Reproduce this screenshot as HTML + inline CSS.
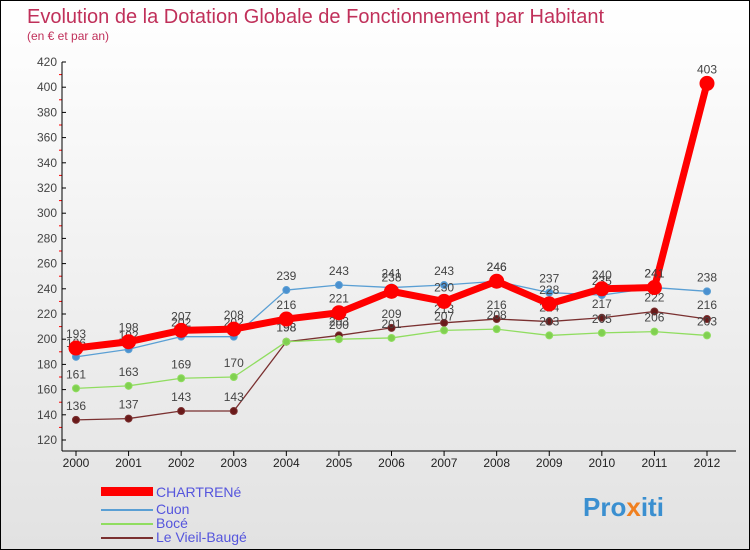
<!DOCTYPE html>
<html><head><meta charset="utf-8"><style>
body{margin:0}
#c{width:748px;height:548px;border:1px solid #000;background:linear-gradient(#fff,#e2e2e2);position:relative;font-family:"Liberation Sans",sans-serif;overflow:hidden}
</style></head><body>
<div id="c">
<svg id="s" width="748" height="548" xmlns="http://www.w3.org/2000/svg">
<text x="26" y="22" font-size="20" fill="#c0305a">Evolution de la Dotation Globale de Fonctionnement par Habitant</text>
<text x="26" y="39" font-size="12" fill="#c0305a">(en € et par an)</text>
<g id="g"></g>
<g>
<rect x="100" y="486" width="52" height="9" fill="#f00"/>
<text x="155" y="496" font-size="14" fill="#5555dd">CHARTRENé</text>
<line x1="100" y1="509" x2="152" y2="509" stroke="#5a9fd4" stroke-width="2"/>
<text x="155" y="513" font-size="14" fill="#5555dd">Cuon</text>
<line x1="100" y1="523" x2="152" y2="523" stroke="#90dd60" stroke-width="2"/>
<text x="155" y="527" font-size="14" fill="#5555dd">Bocé</text>
<line x1="100" y1="537" x2="152" y2="537" stroke="#7a3030" stroke-width="2"/>
<text x="155" y="541" font-size="14" fill="#5555dd">Le Vieil-Baugé</text>
</g>
<text x="582" y="515" font-size="26" font-weight="bold" fill="#3a8fd0">Pro<tspan fill="#f08020">x</tspan>iti</text>
</svg>
</div>
<script>
const years=[2000,2001,2002,2003,2004,2005,2006,2007,2008,2009,2010,2011,2012];
const chartrene=[193,198,207,208,216,221,238,230,246,228,240,241,403];
const cuon=[186,192,202,202,239,243,241,243,246,237,235,241,238];
const boce=[161,163,169,170,198,200,201,207,208,203,205,206,203];
const vieil=[136,137,143,143,198,203,209,213,216,214,217,222,216];
const yTicks=[120,140,160,180,200,220,240,260,280,300,320,340,360,380,400,420];
const NS="http://www.w3.org/2000/svg";
const g=document.getElementById('g');
const X=i=>75+i*(706-75)/(years.length-1);
const Y=v=>439-(v-120)*(439-61)/300;
function el(t,a,p){const e=document.createElementNS(NS,t);for(const k in a)e.setAttribute(k,a[k]);(p||g).appendChild(e);return e;}
yTicks.forEach(v=>{
 el('line',{x1:61,x2:65,y1:Y(v),y2:Y(v),stroke:'#000'});
 if(v<420)el('line',{x1:58,x2:61,y1:Y(v+10),y2:Y(v+10),stroke:'#f00'});
 const t=el('text',{x:56,y:Y(v)+4,'font-size':12,fill:'#444','text-anchor':'end'});t.textContent=v;
 
 
});
el('line',{x1:61,x2:61,y1:61,y2:450,stroke:'#000'});
el('line',{x1:61,x2:735,y1:450,y2:450,stroke:'#000'});
years.forEach((y,i)=>{
 el('line',{x1:X(i),x2:X(i),y1:450,y2:455,stroke:'#000'});
 const t=el('text',{x:X(i),y:466,'font-size':12,fill:'#222','text-anchor':'middle'});t.textContent=y;
 
 
});
function series(d,color,w,r,fill,name){
 const p=el('polyline',{points:d.map((v,i)=>X(i)+','+Y(v)).join(' '),fill:'none',stroke:color,'stroke-width':w,'stroke-linejoin':'round'});
 
 
 d.forEach((v,i)=>{
  const c=el('circle',{cx:X(i),cy:Y(v),r:r,fill:fill,stroke:color,'stroke-width':1});
  
  
  const t=el('text',{x:X(i),y:Y(v)-10,'font-size':12,fill:'#444','text-anchor':'middle'});t.textContent=v;
  
  
 });
}
series(vieil,'#7a3030',1.3,3.5,'#6a1a1a','le-vieil-bauge');
series(boce,'#90dd60',1.3,3.5,'#80d050','boce');
series(cuon,'#5a9fd4',1.3,3.5,'#4a90d0','cuon');
series(chartrene,'#f00',7,7,'#f00','chartrene');
</script>
</body></html>
